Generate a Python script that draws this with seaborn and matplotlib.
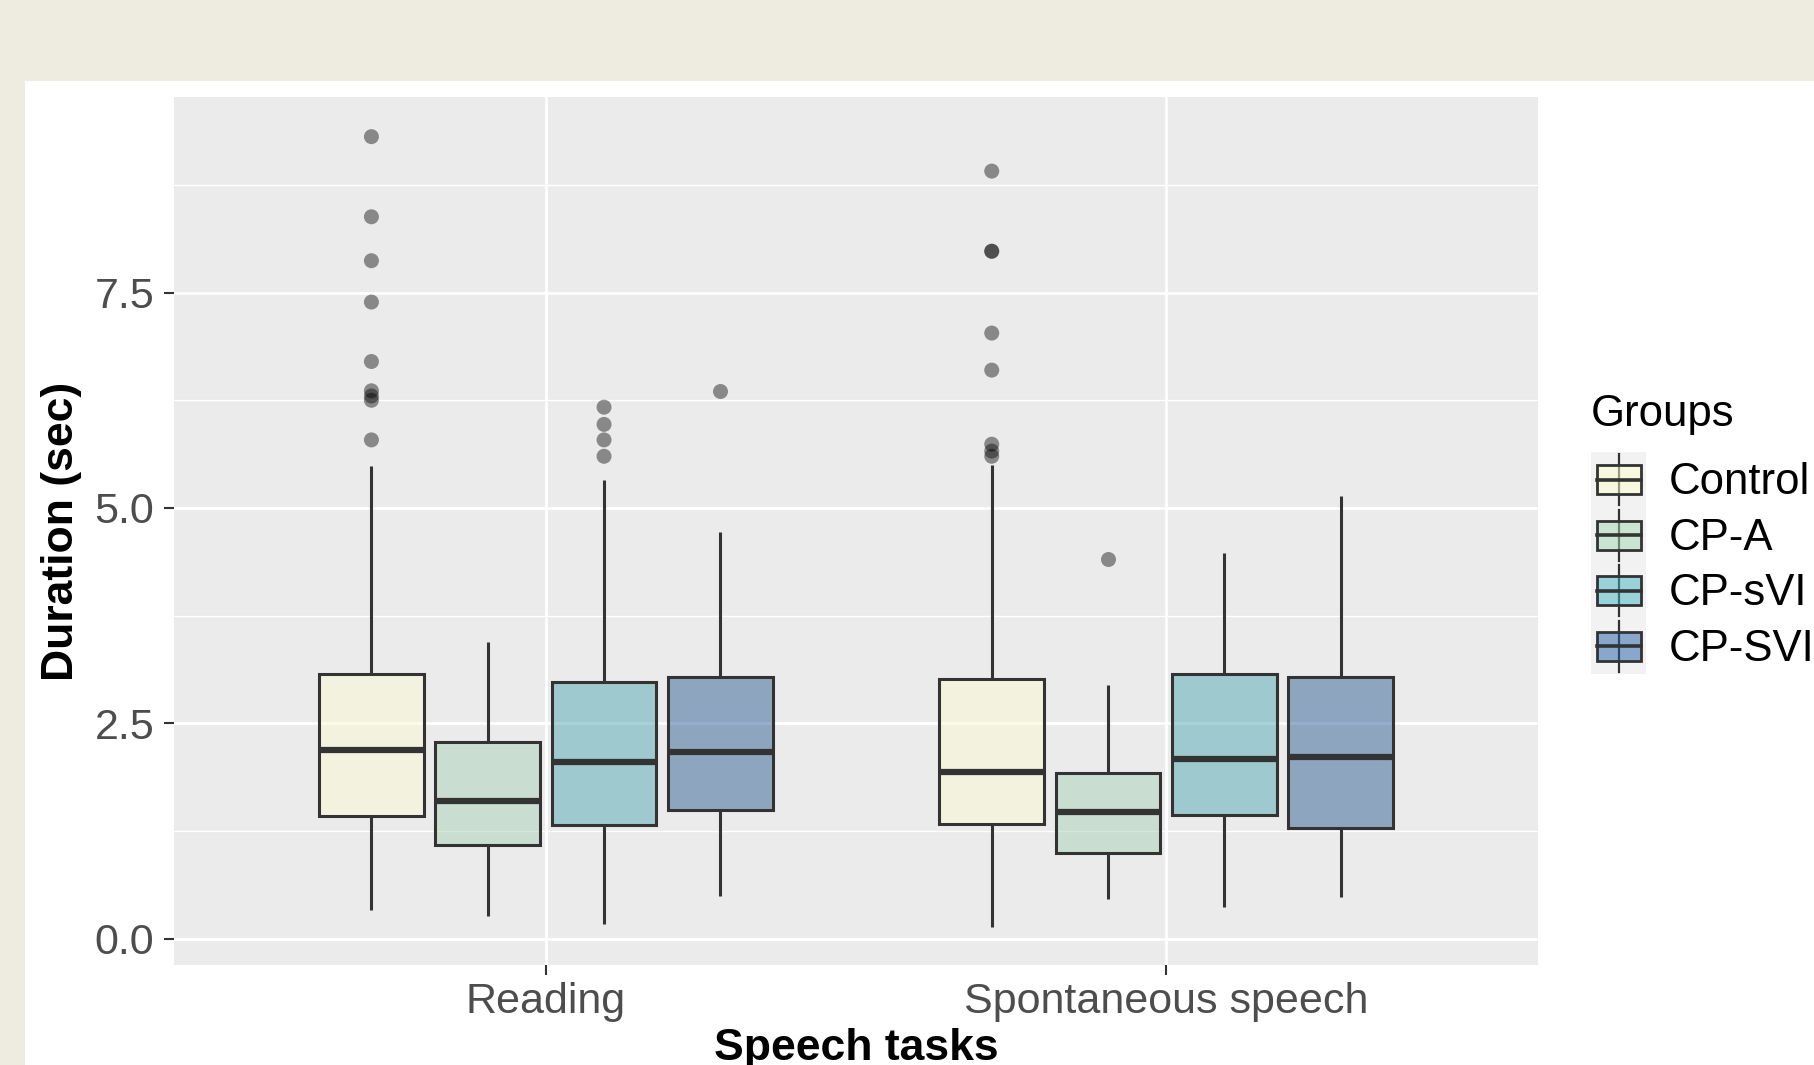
import numpy as np
import pandas as pd
import matplotlib
matplotlib.use("Agg")
import matplotlib.pyplot as plt
import seaborn as sns
from matplotlib.patches import Patch, Rectangle
from matplotlib.lines import Line2D
from matplotlib.legend_handler import HandlerBase
from matplotlib.ticker import MultipleLocator

# ── data ─────────────────────────────────────────────────────────
tasks = ["Reading", "Spontaneous speech"]
groups = ["Control", "CP-A", "CP-sVI", "CP-SVI"]
group_colors = ["#ffffcc", "#a1dab4", "#41b6c4", "#225ea8"]

# five-number summaries per group (lower whisker, Q1, median, Q3, upper whisker)
low_reading = [0.33, 0.26, 0.17, 0.50]
q1_reading = [1.43, 1.09, 1.32, 1.49]
median_reading = [2.19, 1.60, 2.05, 2.17]
q3_reading = [3.07, 2.28, 2.98, 3.04]
high_reading = [5.49, 3.44, 5.33, 4.72]

low_spont = [0.14, 0.46, 0.37, 0.48]
q1_spont = [1.33, 0.99, 1.44, 1.29]
median_spont = [1.93, 1.47, 2.09, 2.11]
q3_spont = [3.02, 1.92, 3.07, 3.04]
high_spont = [5.50, 2.95, 4.48, 5.14]

# outlying points
outlier_task = (["Reading"] * 14 + ["Spontaneous speech"] * 9)
outlier_group = (["Control"] * 9 + ["CP-sVI"] * 4 + ["CP-SVI"] * 1
                 + ["Control"] * 8 + ["CP-A"] * 1)
outlier_value = [9.31, 8.38, 7.87, 7.39, 6.70, 6.36, 6.30, 6.25, 5.79,
                 6.17, 5.97, 5.79, 5.60,
                 6.36,
                 8.91, 7.98, 7.98, 7.03, 6.60, 5.74, 5.66, 5.60,
                 4.41]

# ── long-form tables ─────────────────────────────────────────────
rows = []
for task, stats in [("Reading", (low_reading, q1_reading, median_reading, q3_reading, high_reading)),
                    ("Spontaneous speech", (low_spont, q1_spont, median_spont, q3_spont, high_spont))]:
    for i, g in enumerate(groups):
        for s in stats:
            rows.append({"task": task, "group": g, "duration": s[i]})
box_df = pd.DataFrame(rows)
out_df = pd.DataFrame({"task": outlier_task, "group": outlier_group, "duration": outlier_value})

# ── figure ───────────────────────────────────────────────────────
plt.rcParams["font.family"] = ["Liberation Sans", "DejaVu Sans"]
fig = plt.figure(figsize=(18.15, 10.65), dpi=100, facecolor="#EEEBE0")
fig.add_artist(Rectangle((0.014, 0), 0.986, 0.924, transform=fig.transFigure,
                         facecolor="white", edgecolor="none", zorder=0))

ax = fig.add_axes([0.0957, 0.0939, 0.7519, 0.815])
ax.set_facecolor("#EBEBEB")
ax.set_axisbelow(True)

sns.boxplot(data=box_df, x="task", y="duration", hue="group", order=tasks,
            hue_order=groups, palette=group_colors, whis=(0, 100), width=0.75,
            gap=0.1, showcaps=False, fliersize=0, linecolor="#333333",
            linewidth=2.2, medianprops={"linewidth": 4.5}, legend=False, ax=ax)
for p in ax.patches:
    fc = p.get_facecolor()
    p.set_facecolor((fc[0], fc[1], fc[2], 0.5))

n_before = len(ax.collections)
sns.stripplot(data=out_df, x="task", y="duration", hue="group", order=tasks,
              hue_order=groups, palette=["black"] * 4, dodge=True, jitter=False,
              size=10.8, alpha=0.42, linewidth=0, legend=False, ax=ax)
# match the dodge spacing of the boxes (0.75 instead of strip's 0.8)
for coll in ax.collections[n_before:]:
    offs = coll.get_offsets()
    if len(offs):
        xs = np.asarray(offs[:, 0])
        c = np.round(xs)
        offs[:, 0] = c + (xs - c) * 0.75 / 0.8
        coll.set_offsets(offs)

ax.set_xlim(-0.6, 1.6)
ax.set_ylim(-0.305, 9.77)
ax.set_yticks([0, 2.5, 5, 7.5])
ax.set_yticklabels(["0.0", "2.5", "5.0", "7.5"])
ax.yaxis.set_minor_locator(MultipleLocator(1.25))
ax.grid(which="major", color="white", linewidth=2.0)
ax.grid(which="minor", axis="y", color="white", linewidth=1.0)
ax.tick_params(which="minor", length=0)
ax.tick_params(which="major", length=7.5, width=1.5, color="#333333",
               labelsize=31, labelcolor="#4D4D4D")
ax.tick_params(axis="y", pad=6.5)
ax.tick_params(axis="x", pad=5)
for s in ax.spines.values():
    s.set_visible(False)

ax.set_ylabel("Duration (sec)", fontsize=32, fontweight="bold", color="black")
ax.yaxis.set_label_coords(-0.067, 0.5)
ax.set_xlabel("Speech tasks", fontsize=32, fontweight="bold", color="black", va="top")
ax.xaxis.set_label_coords(0.5, -0.0726)


# legend with boxplot-style keys
class BoxKey(HandlerBase):
    def create_artists(self, legend, orig_handle, xdescent, ydescent,
                       width, height, fontsize, trans):
        x0, y0 = -xdescent, -ydescent
        cx = x0 + width / 2
        cy = y0 + height / 2
        bw, bh = width * 0.8, height * 0.52
        bg = Rectangle((x0, y0), width, height, facecolor="#F2F2F2",
                       edgecolor="none", transform=trans)
        wh = Line2D([cx, cx], [y0 + height * 0.04, y0 + height * 0.96],
                    color="#333333", lw=1.6, transform=trans)
        box = Rectangle((cx - bw / 2, cy - bh / 2), bw, bh,
                        facecolor=orig_handle.get_facecolor(),
                        edgecolor="#333333", lw=2.0, transform=trans)
        med = Line2D([cx - bw / 2, cx + bw / 2], [cy, cy], color="#333333",
                     lw=2.6, transform=trans)
        return [bg, wh, box, med]


handles = [Patch(facecolor=(*matplotlib.colors.to_rgb(c), 0.5)) for c in group_colors]
leg = fig.legend(handles, groups, loc="upper left", bbox_to_anchor=(0.8766, 0.6304),
                 frameon=False, fontsize=31.5, title="Groups", title_fontsize=31.5,
                 handler_map={Patch: BoxKey()}, handlelength=1.26, handleheight=1.577,
                 labelspacing=0, handletextpad=0.52, borderpad=0, borderaxespad=0,
                 alignment="left")
leg._legend_box.sep = 12.5

fig.savefig("out.png", dpi=100, facecolor=fig.get_facecolor())
